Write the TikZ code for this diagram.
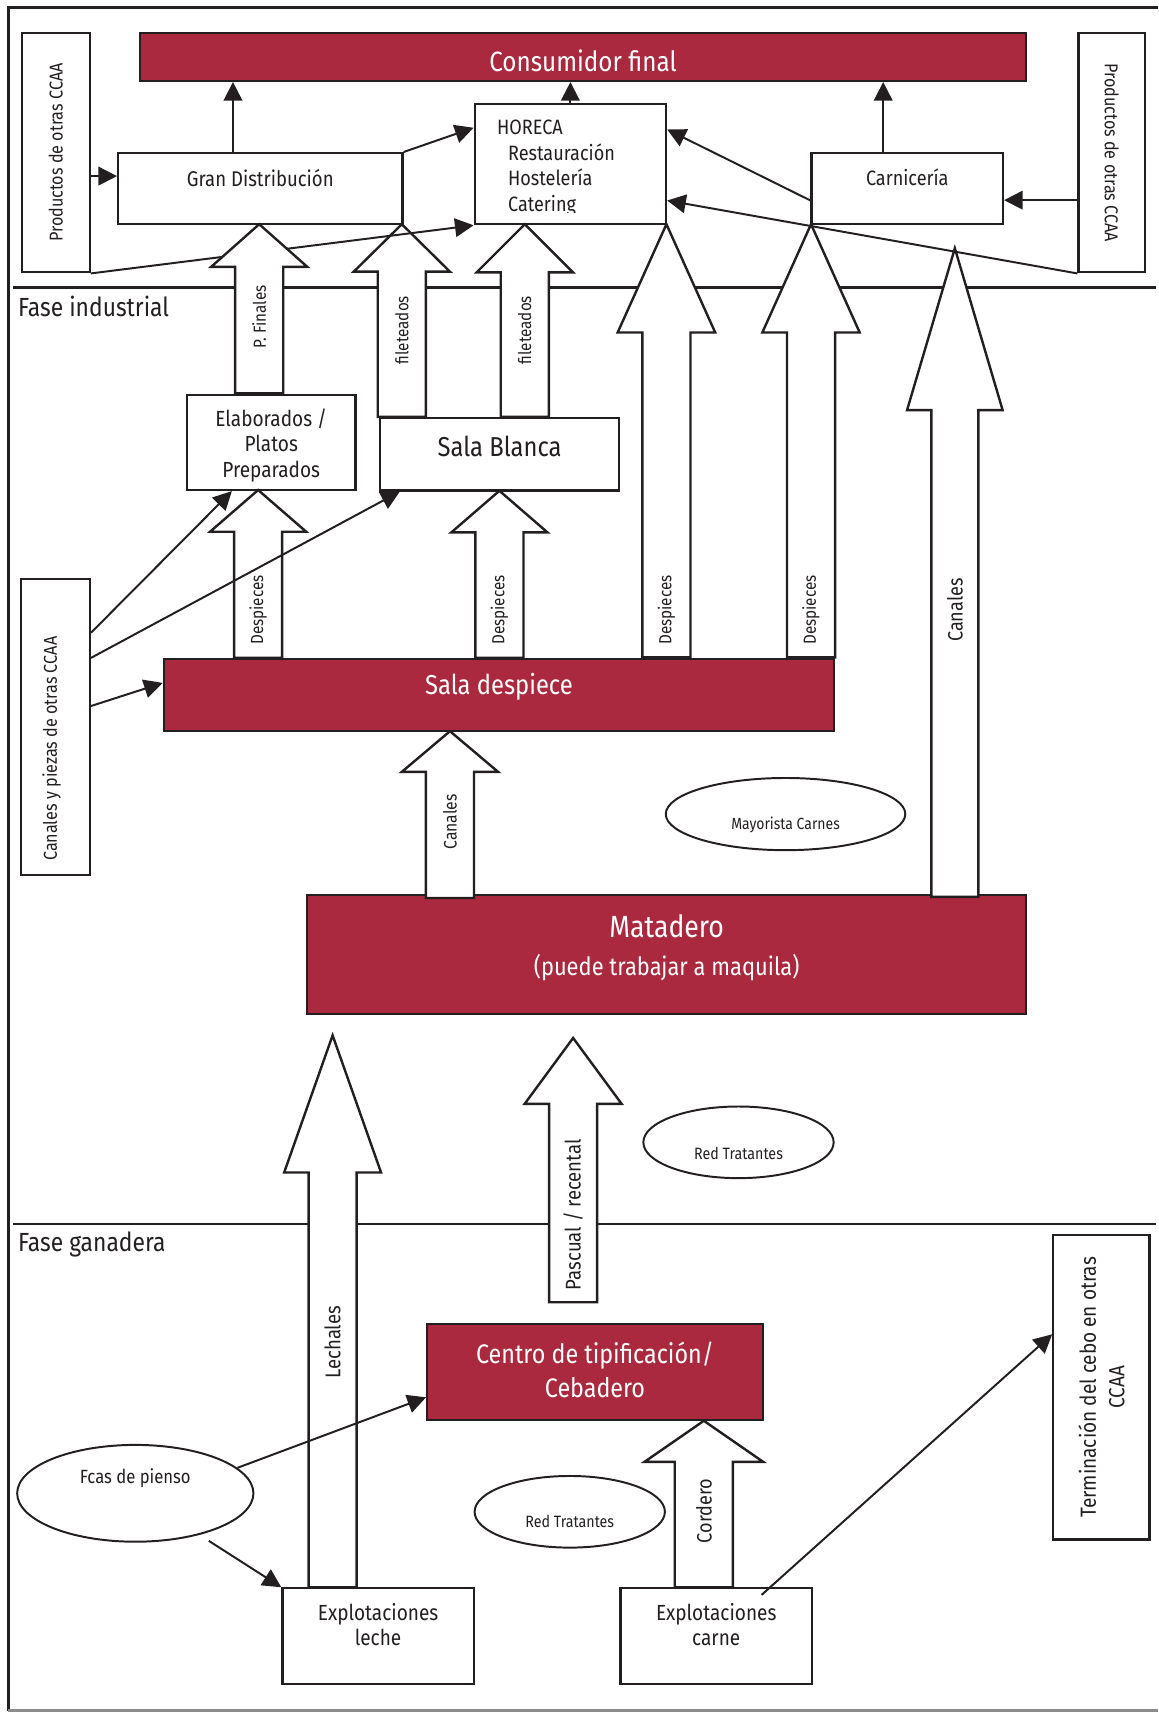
\documentclass[tikz,border=0pt]{standalone}
\usepackage{fontspec}
\setmainfont{Fira Sans}[FakeStretch=0.87]
\usepackage{tikz}
\usetikzlibrary{arrows.meta}
\usetikzlibrary{shapes.geometric}
\newcommand{\fsz}[2]{\fontsize{#1}{#2}\selectfont}
\definecolor{wine}{RGB}{170,41,62}
\definecolor{ink}{RGB}{35,31,32}
\tikzset{
  box/.style={draw=ink, line width=2pt, fill=white, inner sep=0pt, anchor=north west},
  redbox/.style={box, fill=wine},
  oval/.style={draw=ink, ellipse, line width=1.8pt, inner sep=0pt},
  flow/.style={draw=ink, line width=1.8pt, -{Triangle[length=17pt,width=17pt]}},
  phase/.style={draw=ink, line width=2.4pt},
  txt/.style={text=ink},
  wtxt/.style={text=white},
  arrowtext/.style={text=ink, rotate=90},
}
\tikzset{
  block arrow/.pic={
    \tikzset{/blockarrow/.cd, #1}
    \draw [draw=ink, line width=2.2pt, fill=white]
    (-\arrshaft,0) -- (-\arrshaft,-\arrbase) -- (-\arrhead,-\arrbase) -- (0,-\arrtip)
    -- (\arrhead,-\arrbase) -- (\arrshaft,-\arrbase) -- (\arrshaft,0) -- cycle;
    \node [arrowtext, font=\fontsize{\arrsize}{20}\selectfont] (-note) at (0,-\arrat) {\arrnote};
  },
  /blockarrow/.search also={/tikz},
  /blockarrow/.cd,
  half shaft/.store in=\arrshaft,
  half head/.store in=\arrhead,
  head at/.store in=\arrbase,
  tip at/.store in=\arrtip,
  note/.store in=\arrnote,
  note at/.store in=\arrat,
  note size/.store in=\arrsize,
  half shaft=22,
  half head=44,
  head at=115,
  tip at=153,
  note={},
  note at=70,
  note size=16,
}

\begin{document}
\begin{tikzpicture}[x=1pt, y=-1pt]
    \useasboundingbox (0,0) rectangle (1059,1568);

    % frame and phases
    \draw [ink, line width=2.4pt] (1059,6.7) -- (7.5,6.7) -- (7.5,1564);
    \draw [black!45, line width=2.4pt] (7.5,1564) -- (1059,1564);
    \draw [phase] (12,262.8) -- (1057,262.8);
    \draw [phase] (12,1119) -- (1057,1119);
    \node [txt, anchor=west, font=\fsz{24}{28}] (indus) at (13,280) {Fase industrial};
    \node [txt, anchor=west, font=\fsz{24}{28}] (ganad) at (13,1137.6) {Fase ganadera};

    % top
    \node [box, minimum width=62pt, minimum height=219pt,
      label={[txt, rotate=90, font=\fsz{17}{20}]center:Productos de otras CCAA}] (prodL) at (19,29) {};
    \node [redbox, minimum width=810pt, minimum height=44pt,
      label={[wtxt, yshift=-4pt, font=\fsz{25.5}{30}]center:Consumidor final}] (consumidor) at (127,29) {};
    \node [box, minimum width=61pt, minimum height=219pt,
      label={[txt, rotate=-90, font=\fsz{17}{20}]center:Productos de otras CCAA}] (prodR) at (985,29) {};
    \node [box, minimum width=260pt, minimum height=65pt,
      label={[txt, yshift=10pt, font=\fsz{19.5}{23}]center:Gran Distribución}] (gran) at (107,139) {};
    \node [box, minimum width=175pt, minimum height=110pt] (horeca) at (433,94) {};
    \begin{scope}
      \clip (433,94) rectangle (608,194);
      \node [txt, anchor=base west, font=\fsz{19}{23}] (horeca1) at (451,123.3) {HORECA};
      \node [txt, anchor=base west, font=\fsz{19}{23}] (horeca2) at (461,146.6) {Restauración};
      \node [txt, anchor=base west, font=\fsz{19}{23}] (horeca3) at (461,169.9) {Hostelería};
      \node [txt, anchor=base west, font=\fsz{19}{23}] (horeca4) at (461,193.2) {Catering};
    \end{scope}
    \node [box, minimum width=175pt, minimum height=65pt,
      label={[txt, yshift=10.5pt, font=\fsz{19}{23}]center:Carnicería}] (carni) at (741,139) {};

    % industrial
    \node [box, minimum width=154pt, minimum height=87pt,
      label={[txt, yshift=-2.5pt, align=center, font=\fsz{20}{23.3}]center:Elaborados /\\Platos\\Preparados}] (elab) at (170,360) {};
    \node [box, minimum width=218.5pt, minimum height=66.5pt,
      label={[txt, yshift=7pt, font=\fsz{25}{30}]center:Sala Blanca}] (blanca) at (346.5,381) {};
    \node [redbox, minimum width=613pt, minimum height=65.6pt,
      label={[wtxt, yshift=7pt, font=\fsz{25}{30}]center:Sala despiece}] (despiece) at (148.7,601.4) {};
    \node [box, minimum width=62.7pt, minimum height=271pt] (canalesL) at (18.5,528) {};
    \node [txt, rotate=90, font=\fsz{17}{20}] (canalesLtxt) at (47.2,684.6) {Canales y piezas de otras CCAA};
    \node [oval, minimum width=219pt, minimum height=66pt,
      label={[txt, yshift=-10pt, font=\fsz{14.7}{18}]center:Mayorista Carnes}] (mayorista) at (718.2,744.3) {};
    \node [redbox, minimum width=657pt, minimum height=109pt,
      label={[wtxt, yshift=25.5pt, font=\fsz{28}{32}]center:Matadero},
      label={[wtxt, yshift=-12.5pt, font=\fsz{23}{28}]center:(puede trabajar a maquila)}] (matadero) at (280,817) {};

    % ganadera
    \node [oval, minimum width=174pt, minimum height=65.5pt,
      label={[txt, yshift=-10pt, font=\fsz{15}{18}]center:Red Tratantes}] (redUp) at (675.2,1044.4) {};
    \node [redbox, minimum width=307pt, minimum height=87.6pt,
      label={[wtxt, yshift=2pt, align=center, font=\fsz{24.5}{30.4}]center:Centro de tipificación/\\Cebadero}] (centro) at (389.5,1209.7) {};
    \node [box, minimum width=88pt, minimum height=278.2pt,
      label={[txt, rotate=90, align=center, font=\fsz{20}{26}]center:Terminación del cebo en otras\\CCAA}] (termin) at (962,1128.4) {};
    \node [oval, minimum width=216pt, minimum height=88.5pt,
      label={[txt, yshift=14pt, font=\fsz{17.5}{21}]center:Fcas de pienso}] (fcas) at (123.7,1365.3) {};
    \node [oval, minimum width=174pt, minimum height=65.5pt,
      label={[txt, yshift=-9pt, font=\fsz{15}{18}]center:Red Tratantes}] (redLow) at (520.9,1382.2) {};
    \node [box, minimum width=175pt, minimum height=87.5pt,
      label={[txt, yshift=10.3pt, align=center, font=\fsz{20}{23}]center:Explotaciones\\leche}] (leche) at (257.2,1451.2) {};
    \node [box, minimum width=175pt, minimum height=87.5pt,
      label={[txt, yshift=10.3pt, align=center, font=\fsz{20}{23}]center:Explotaciones\\carne}] (carne) at (566.3,1451.2) {};

    % block arrows
    \pic (filA) at (367.4,381) {block arrow={head at=132.6, tip at=176, note=fileteados, note at=79.2}};
    \pic (filB) at (479.8,381) {block arrow={head at=132, tip at=176, note=fileteados, note at=79.2}};
    \pic (despA) at (609.3,601) {block arrow={half head=44.6, head at=297, tip at=396, note=Despieces, note at=43.2}};
    \pic (despB) at (741.5,601) {block arrow={half head=44.5, head at=297, tip at=396, note=Despieces, note at=43.2}};
    \pic (canA) at (873,820) {block arrow={half shaft=21.5, half head=43.7, head at=445, tip at=593, note=Canales, note at=262.2, note size=19}};
    \pic (despC) at (236,601.4) {block arrow={head at=115.2, tip at=153.4, note=Despieces, note at=43.6}};
    \pic (despD) at (456.6,601.4) {block arrow={head at=114.6, tip at=152.7, note=Despieces, note at=43.6}};
    \pic (canB) at (411.4,821) {block arrow={head at=115.3, tip at=152.5, note=Canales, note at=69.6, note size=16.5}};
    \pic (lech) at (304.1,1451.2) {block arrow={half head=44.3, head at=379.2, tip at=504.6, note=Lechales, note at=224, note size=19.5}};
    \pic (pasc) at (524,1190.6) {block arrow={half head=44.3, head at=181.4, tip at=241.6, note=Pascual / recental, note at=80.1, note size=19.5}};
    \pic (cord) at (643.5,1451.2) {block arrow={half shaft=26.6, half head=54.2, head at=114.7, tip at=152.2, note=Cordero, note at=69.7, note size=19}};

    % thin arrows
    \coordinate (gtop) at ([xshift=106pt]gran.north west);
    \coordinate (ctop) at ([xshift=-22pt]carni.north);
    \coordinate (gin) at ([yshift=11.5pt]gran.west);
    \coordinate (cin) at ([yshift=-10.5pt]carni.east);
    \draw [flow] (gtop) -- (gtop |- consumidor.south);
    \draw [flow] (horeca.north) -- (horeca.north |- consumidor.south);
    \draw [flow] (ctop) -- (ctop |- consumidor.south);
    \draw [flow] (gin -| prodL.east) -- (gin);
    \draw [flow] (cin -| prodR.west) -- (cin);
    \draw [flow] (gran.north east) -- ([yshift=-22.8pt]horeca.north west);
    \draw [flow] (prodL.south east) -- (horeca.south west);
    \draw [flow] ([yshift=-10.8pt]carni.west) -- ([yshift=31.6pt]horeca.east);
    \draw [flow] (prodR.south west) -- ([yshift=-33.3pt]horeca.east);
    \draw [flow] ([yshift=86pt]canalesL.east) -- ([xshift=42pt]elab.south west);
    \draw [flow] ([yshift=63pt]canalesL.east) -- ([xshift=19pt]blanca.south west);
    \draw [flow] ([yshift=19pt]canalesL.east) -- ([yshift=10.8pt]despiece.west);
    \draw [flow] (fcas.14.6) -- ([yshift=-23pt]centro.west);
    \draw [flow] ([shift={(19pt,-3pt)}]fcas.-40) -- (leche.north west);
    \draw [flow] ([shift={(130pt,-7pt)}]carne.north west) -- ([yshift=48.6pt]termin.west);

    \pic (pfin) at (237,359.7) {block arrow={head at=115.7, tip at=154.7, note=P. Finales, note at=70.1}};

  \end{tikzpicture}
\end{document}
